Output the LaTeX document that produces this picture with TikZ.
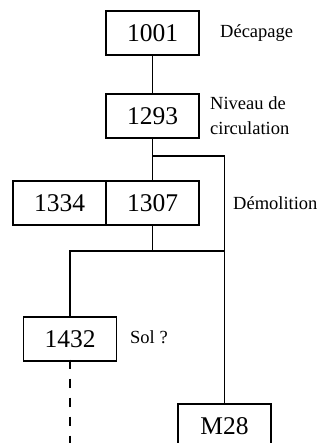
\documentclass[tikz,border=0pt]{standalone}
\usepackage{fontspec}
\setmainfont{Liberation Serif}
\usepackage{tikz}
\tikzset{
    us/.style={draw, line width=1.2pt, minimum width=93pt, minimum height=44pt,
               inner sep=0pt, font=\fontsize{25.5}{25}\selectfont},
    note/.style={anchor=west, inner sep=0pt, align=left,
                 font=\fontsize{18.5}{25}\selectfont},
    link/.style={line width=1.6pt}
}

\begin{document}
\begin{tikzpicture}[x=1pt, y=-1pt]
    % Frame
    \useasboundingbox (0,0) rectangle (323,443);
    \clip (0,0) rectangle (323,443);

    % Units
    \node[us] (n1001) at (152.5,33) {1001};
    \node[us] (n1293) at (152.5,116) {1293};
    \node[us] (n1307) at (152.5,203) {1307};
    \node[us] (n1334) at (59.5,203) {1334};
    \node[us] (n1432) at (70,339) {1432};
    \node[us] (nM28) at (224.5,426) {M28};

    % Notes
    \node[note] (tDec) at (220,33) {Décapage};
    \node[note] (tNiv) at (210,116) {Niveau de\\circulation};
    \node[note] (tDem) at (233,203) {Démolition};
    \node[note] (tSol) at (130,337) {Sol ?};

    % Links
    \coordinate (split) at (152.5,156);
    \coordinate (join) at (152.5,251);
    \coordinate (floor) at (70,443);
    \draw[link] (n1001) -- (n1293);
    \draw[link] (n1293) -- (n1307);
    \draw[link] (split) -| (nM28.north);
    \draw[link] (n1307.south) -- (join);
    \draw[link] (n1432.north) |- (join) -- (join -| nM28);
    \draw[link, dash pattern=on 9pt off 10pt] ([yshift=2pt]n1432.south) -- (floor);
\end{tikzpicture}
\end{document}
